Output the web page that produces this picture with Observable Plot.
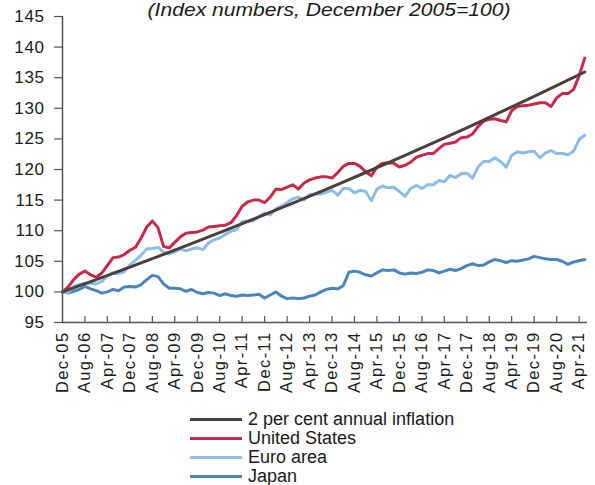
<!DOCTYPE html>
<html>
<head>
<meta charset="utf-8">
<script src="https://cdn.jsdelivr.net/npm/d3@7"></script>
<script src="https://cdn.jsdelivr.net/npm/@observablehq/plot@0.6"></script>
<style>
  html, body { margin: 0; padding: 0; background: #fff; }
  #wrap { position: relative; width: 595px; height: 485px; font-family: "Liberation Sans", Arial, sans-serif; color: #1a1a1a; }
  #title { position: absolute; left: 329px; top: 0; transform: translateX(-50%) scaleX(1.14); white-space: nowrap;
           font-size: 18.5px; line-height: 20px; font-style: italic; z-index: 2; }
  #chart { position: absolute; left: 0; top: 0; }
  #legend { position: absolute; left: 190px; top: 410px; font-size: 18px; }
  .row { display: flex; align-items: center; height: 18.9px; }
  .sw { width: 52px; height: 3px; margin-right: 6px; }
</style>
</head>
<body>
<div id="wrap">
  <div id="title">(Index numbers, December 2005=100)</div>
  <div id="chart"></div>
  <div id="legend"></div>
</div>
<script>
// Series: bimonthly observations starting Dec-05 (Dec-05, Feb-06, Apr-06, ... Jun-21)
const startLabel = "Dec-05";
const stepMonths = 2;

const unitedStates = [
  100.0, 100.8, 102.0, 102.9, 103.4, 102.8, 102.4, 103.1, 104.3, 105.6,
  105.7, 106.1, 106.8, 107.3, 108.8, 110.6, 111.6, 110.5, 107.4, 107.2,
  108.1, 109.0, 109.6, 109.7, 109.8, 110.1, 110.6, 110.7, 110.8, 110.9,
  111.3, 112.5, 114.0, 114.7, 115.0, 115.0, 114.6, 115.5, 116.8, 116.7,
  117.1, 117.5, 116.8, 117.8, 118.3, 118.6, 118.8, 118.8, 118.6, 119.5,
  120.5, 121.0, 121.0, 120.5, 119.6, 119.0, 120.4, 121.0, 121.1, 121.0,
  120.4, 120.7, 121.2, 122.0, 122.3, 122.6, 122.6, 123.4, 124.1, 124.3,
  124.5, 125.2, 125.3, 125.8, 127.0, 127.9, 128.2, 128.3, 128.0, 127.8,
  129.6, 130.3, 130.4, 130.5, 130.7, 130.9, 130.9, 130.3, 131.7, 132.4,
  132.4, 133.1, 135.3, 138.2
];

const euroArea = [
  100.0, 99.9, 100.9, 101.2, 101.4, 101.4, 101.3, 101.7, 102.6, 103.1,
  103.0, 103.3, 104.4, 105.2, 106.0, 107.0, 107.1, 107.3, 106.5, 106.2,
  106.6, 107.0, 106.7, 107.0, 107.2, 106.9, 108.0, 108.5, 108.8, 109.4,
  109.9, 110.2, 111.5, 111.6, 111.6, 112.3, 112.9, 112.6, 113.6, 114.0,
  114.6, 115.2, 115.5, 115.0, 115.9, 116.0, 116.0, 116.3, 116.6, 115.8,
  116.9, 116.9, 116.2, 116.6, 116.4, 114.9, 116.8, 117.3, 117.0, 117.1,
  116.4, 115.6, 116.9, 117.4, 116.9, 117.5, 117.5, 118.2, 118.0, 119.0,
  118.7, 119.3, 119.4, 118.6, 120.4, 121.3, 121.3, 121.9, 121.3, 120.4,
  122.3, 122.9, 122.7, 122.9, 123.0, 121.9, 122.7, 123.1, 122.6, 122.6,
  122.4, 123.0, 124.9, 125.6
];

const japan = [
  100.0, 99.8, 100.1, 100.4, 100.9, 100.5, 100.2, 99.8, 100.0, 100.4,
  100.2, 100.8, 100.9, 100.8, 101.2, 102.0, 102.7, 102.5, 101.3, 100.6,
  100.6, 100.5, 100.1, 100.4, 99.9, 99.7, 99.9, 99.8, 99.4, 99.7,
  99.4, 99.3, 99.5, 99.4, 99.5, 99.6, 99.0, 99.5, 100.0, 99.3,
  98.9, 99.0, 98.9, 99.0, 99.3, 99.5, 100.0, 100.4, 100.6, 100.5,
  101.0, 103.2, 103.4, 103.2, 102.8, 102.6, 103.1, 103.6, 103.5, 103.6,
  103.1, 102.9, 103.1, 103.0, 103.2, 103.6, 103.5, 103.1, 103.4, 103.7,
  103.5, 103.8, 104.3, 104.6, 104.3, 104.4, 104.9, 105.3, 105.1, 104.8,
  105.1, 105.0, 105.2, 105.4, 105.8, 105.6, 105.4, 105.3, 105.3, 105.0,
  104.5, 104.9, 105.1, 105.3
];

// 2 per cent annual inflation path
const trendLabels = ["Dec-05","Dec-06","Dec-07","Dec-08","Dec-09","Dec-10","Dec-11","Dec-12",
  "Dec-13","Dec-14","Dec-15","Dec-16","Dec-17","Dec-18","Dec-19","Dec-20","Jun-21"];
const trendValues = [100.0, 102.0, 104.04, 106.12, 108.24, 110.41, 112.62, 114.87,
  117.17, 119.51, 121.9, 124.34, 126.82, 129.36, 131.95, 134.59, 135.93];

const xTickLabels = ["Dec-05","Aug-06","Apr-07","Dec-07","Aug-08","Apr-09","Dec-09","Aug-10",
  "Apr-11","Dec-11","Aug-12","Apr-13","Dec-13","Aug-14","Apr-15","Dec-15","Aug-16","Apr-17",
  "Dec-17","Aug-18","Apr-19","Dec-19","Aug-20","Apr-21"];
const yTicks = [95, 100, 105, 110, 115, 120, 125, 130, 135, 140, 145];
const xDomainLabels = ["Dec-05", "Jul-21"];

const seriesNames = ["2 per cent annual inflation", "United States", "Euro area", "Japan"];
const seriesColors = ["#4a3f3b", "#c62a4b", "#8dbce6", "#4b86bb"];

const parse = d3.utcParse("%b-%y");
const fmt = d3.utcFormat("%b-%y");
const start = parse(startLabel);

function rows(values, name) {
  return values.map((v, i) => ({date: d3.utcMonth.offset(start, i * stepMonths), value: v, series: name}));
}
const trendRows = trendLabels.map((l, i) => ({date: parse(l), value: trendValues[i], series: seriesNames[0]}));
const usRows = rows(unitedStates, seriesNames[1]);
const euRows = rows(euroArea, seriesNames[2]);
const jpRows = rows(japan, seriesNames[3]);

const xTicks = xTickLabels.map(parse);
const xDomain = xDomainLabels.map(parse);
const colorScale = {domain: seriesNames, range: seriesColors};
const axisColor = "#555";

const plot = Plot.plot({
  width: 595,
  height: 400,
  marginTop: 16,
  marginLeft: 62,
  marginRight: 8,
  marginBottom: 78,
  style: {fontFamily: "'Liberation Sans', Arial, sans-serif", fontSize: "17px", color: "#1a1a1a", background: "transparent"},
  x: {type: "utc", domain: xDomain},
  y: {domain: [95, 145]},
  color: colorScale,
  marks: [
    Plot.line(jpRows, {x: "date", y: "value", stroke: "series", strokeWidth: 3}),
    Plot.line(euRows, {x: "date", y: "value", stroke: "series", strokeWidth: 3}),
    Plot.line(usRows, {x: "date", y: "value", stroke: "series", strokeWidth: 3}),
    Plot.line(trendRows, {x: "date", y: "value", stroke: "series", strokeWidth: 3}),
    Plot.ruleY([95], {stroke: axisColor, strokeWidth: 1.5}),
    Plot.ruleX([xDomain[0]], {stroke: axisColor, strokeWidth: 1.5}),
    Plot.ruleX(xTicks.slice(1), {stroke: axisColor, strokeWidth: 1.2, insetTop: 300}),
    Plot.axisY({ticks: yTicks, tickSize: 8, tickPadding: 10, stroke: axisColor, strokeWidth: 1.2, fontSize: 17, fill: "#1a1a1a", label: null, ariaLabel: "y-axis"}),
    Plot.axisX({ticks: xTicks, tickFormat: d => fmt(d), tickRotate: -90, tickSize: 0, tickPadding: 9, fontSize: 16.5, fill: "#1a1a1a", label: null, ariaLabel: "x-axis"})
  ]
});
plot.querySelectorAll('g[aria-label="x-axis tick label"] text').forEach(t => t.setAttribute("letter-spacing", "1.4"));
plot.querySelectorAll('g[aria-label="y-axis tick label"] text').forEach(t => t.setAttribute("letter-spacing", "0.6"));
document.getElementById("chart").appendChild(plot);

const legend = document.getElementById("legend");
seriesNames.forEach((name, i) => {
  const row = document.createElement("div");
  row.className = "row";
  const sw = document.createElement("div");
  sw.className = "sw";
  sw.style.background = seriesColors[i];
  const t = document.createElement("span");
  t.textContent = name;
  row.appendChild(sw);
  row.appendChild(t);
  legend.appendChild(row);
});
</script>
</body>
</html>
